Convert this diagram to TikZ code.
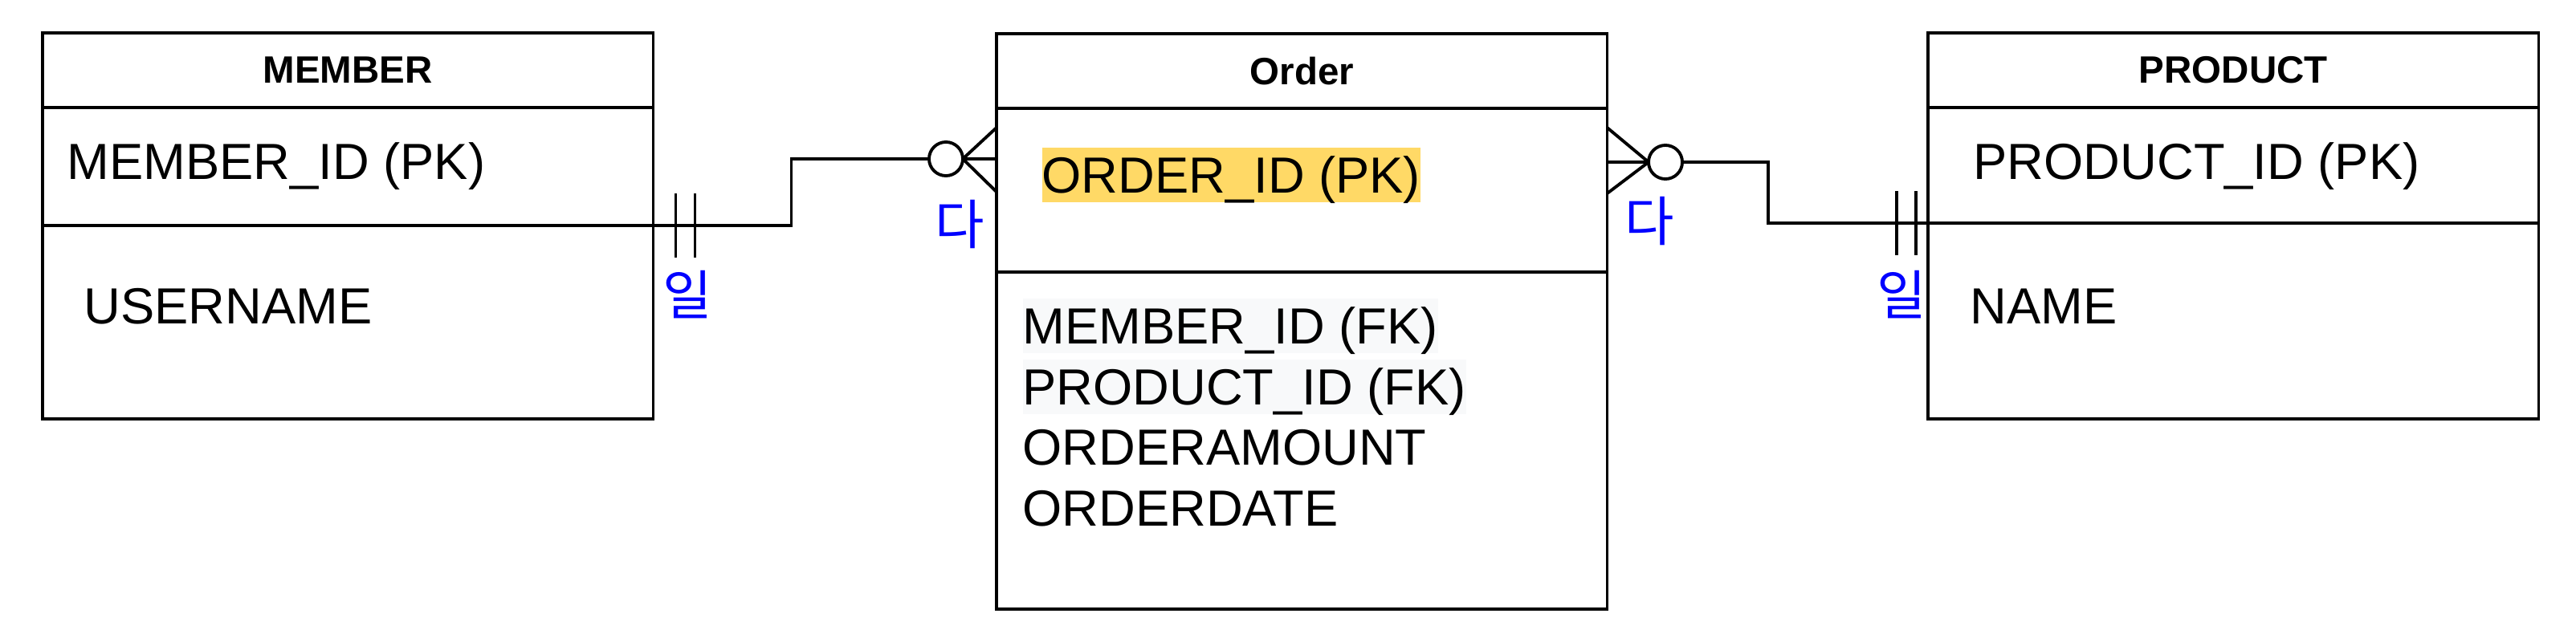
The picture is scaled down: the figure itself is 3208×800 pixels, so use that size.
\documentclass[tikz,border=0pt]{standalone}
\usepackage{fontspec}
\setmainfont{Liberation Sans}
\newfontfamily\kofont{Noto Sans CJK KR}
\usetikzlibrary{positioning,calc}
\definecolor{pkyellow}{HTML}{FFD966}
\definecolor{fkgray}{HTML}{F8F9FA}
\definecolor{cardblue}{HTML}{0000FF}
\tikzset{
  ttl/.style={rectangle, draw, line width=1.1pt, font=\fontsize{13.5}{16}\selectfont\bfseries,
              minimum width=7.6cm, minimum height=0.93cm, outer sep=0pt, inner sep=0pt},
  row/.style={rectangle, draw, line width=1.1pt, minimum width=7.6cm,
              outer sep=0pt, inner sep=0pt},
  fld/.style={font=\fontsize{18}{22}\selectfont, inner sep=0pt, anchor=base west,
              text height=0.56cm, text depth=0.12cm},
  pkmark/.style={fld, fill=pkyellow},
  fkmark/.style={fld, fill=fkgray},
  card/.style={font=\kofont\fontsize{19}{22}\selectfont, text=cardblue, inner sep=0pt},
  rel/.style={line width=1.1pt},
  zero/.style={circle, draw, line width=1.1pt, minimum size=0.42cm, inner sep=0pt,
               outer sep=0pt, fill=white}
}
\begin{document}
\begin{tikzpicture}[x=0.01cm, y=-0.01cm]
  \useasboundingbox[fill=white] (0,0) rectangle (3208,800);
  % MEMBER table
  \node[ttl, anchor=north west] (mtitle) at (53,41) {MEMBER};
  \node[row, minimum height=1.47cm, below=0pt of mtitle] (mkey) {};
  \node[row, minimum height=2.41cm, below=0pt of mkey] (mattr) {};
  \node[fld] (mpk) at (83,223) {MEMBER\_ID (PK)};
  \node[fld] (mname) at (104,403) {USERNAME};
  % Order table
  \node[ttl, anchor=north west] (otitle) at (1241,42) {Order};
  \node[row, minimum height=2.04cm, below=0pt of otitle] (okey) {};
  \node[row, minimum height=4.2cm, below=0pt of okey] (oattr) {};
  \node[pkmark] (opk) at (1297,240) {ORDER\_ID (PK)};
  \node[fkmark] (ofk1) at (1273,428) {MEMBER\_ID (FK)};
  \node[fkmark] (ofk2) at (1273,504) {PRODUCT\_ID (FK)};
  \node[fld] (oamt) at (1273,579) {ORDERAMOUNT};
  \node[fld] (odate) at (1273,655) {ORDERDATE};
  % PRODUCT table
  \node[ttl, anchor=north west] (ptitle) at (2401,41) {PRODUCT};
  \node[row, minimum height=1.44cm, below=0pt of ptitle] (pkey) {};
  \node[row, minimum height=2.44cm, below=0pt of pkey] (pattr) {};
  \node[fld] (ppk) at (2457,223) {PRODUCT\_ID (PK)};
  \node[fld] (pname) at (2453,403) {NAME};
  % MEMBER 1 -- N Order
  \node[zero] (mz) at (1178,198) {};
  \draw[rel] (mkey.south east) -- ++(172,0) |- (mz.west);
  \draw[rel] ($(mkey.south east)+(28,-40)$) -- ++(0,80);
  \draw[rel] ($(mkey.south east)+(52,-40)$) -- ++(0,80);
  \draw[rel] (mz.east) -- ($(okey.north west)+(0,24)$);
  \draw[rel] (mz.east) -- (mz.east -| okey.west);
  \draw[rel] (mz.east) -- ($(okey.north west)+(0,104)$);
  % Order N -- 1 PRODUCT
  \node[zero] (pz) at (2074,202) {};
  \draw[rel] (pz.east) -- ++(107,0) |- (pkey.south west);
  \draw[rel] ($(pkey.south west)+(-39,-40)$) -- ++(0,80);
  \draw[rel] ($(pkey.south west)+(-15,-40)$) -- ++(0,80);
  \draw[rel] (pz.west) -- ($(okey.north east)+(0,24)$);
  \draw[rel] (pz.west) -- (pz.west -| okey.east);
  \draw[rel] (pz.west) -- ($(okey.north east)+(0,106)$);
  % cardinality labels
  \node[card] (mone) at (856,367) {일};
  \node[card] (omany1) at (1195,280) {다};
  \node[card] (omany2) at (2054,276) {다};
  \node[card] (pone) at (2368,367) {일};
\end{tikzpicture}
\end{document}
